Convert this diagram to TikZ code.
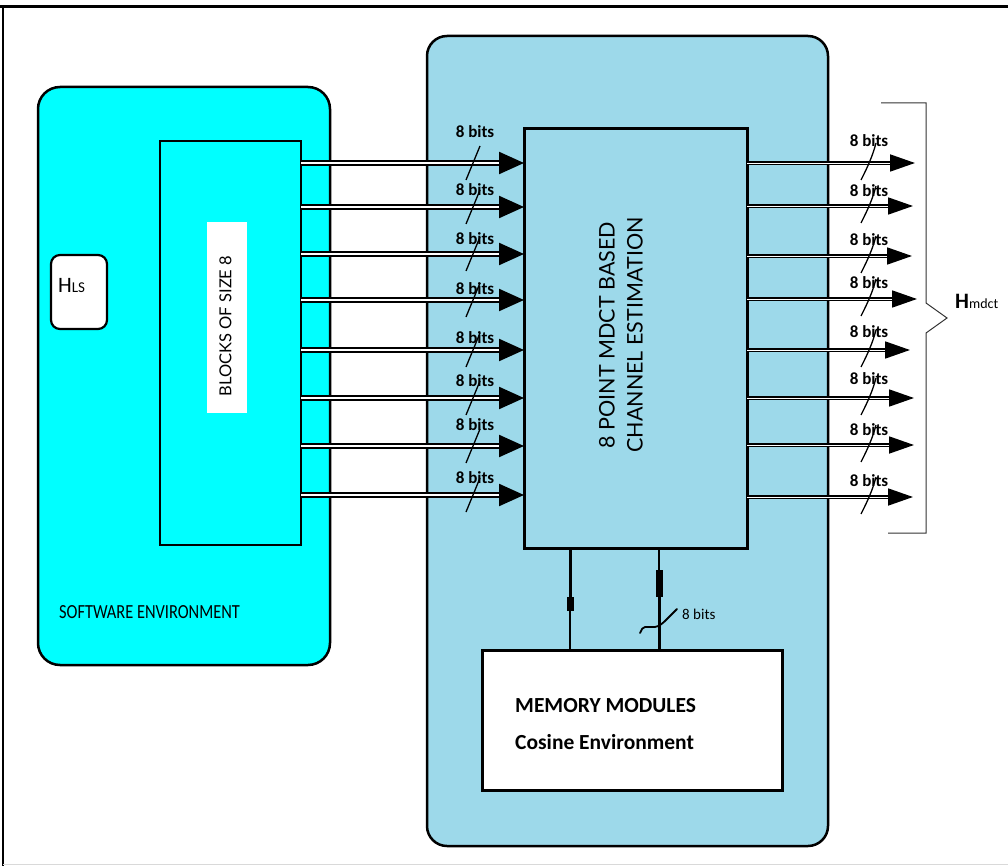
\documentclass[tikz,border=0pt]{standalone}
\usepackage{fontspec}
\setmainfont{Carlito}
\newfontfamily\rotfont{Lato}
\usetikzlibrary{arrows.meta}
\definecolor{hwblue}{RGB}{157,217,234}
\definecolor{swcyan}{RGB}{0,255,255}
\tikzset{
  box/.style={draw=black, line width=2.5pt, inner sep=0pt, outer sep=0pt, anchor=north west},
  inarrow/.style={line width=2.2pt, double=white, double distance=1.6pt, -{Triangle[length=25pt,width=22pt]}},
  outarrow/.style={line width=1.8pt, double=white, double distance=0.9pt, -{Triangle[length=25pt,width=17pt]}},
  slashline/.style={line width=1.3pt},
  bitlbl/.style={font=\fontsize{17}{18}\selectfont\bfseries, inner sep=0pt},
}
\begin{document}
\begin{tikzpicture}[x=1pt,y=-1pt]
\useasboundingbox (0,0) rectangle (1008,866);
% outer frame
\draw[line width=3pt] (0,6.5) -- (1008,6.5);
\draw[line width=1.5pt] (3,6.5) -- (3,866);
\draw[black!15, line width=1pt] (3,864.5) -- (1008,864.5);

% software environment
\node[box, fill=swcyan, rounded corners=22pt, minimum width=292pt, minimum height=578pt] (sw) at (38,87) {};
\node[anchor=west, inner sep=0pt, xscale=0.82, font=\fontsize{20}{22}\selectfont] (swlbl) at (59,612) {SOFTWARE ENVIRONMENT};
\node[box, fill=white, line width=2.2pt, rounded corners=9pt, minimum width=56pt, minimum height=74pt] (hls) at (51,255) {};
\node[anchor=west, inner sep=0pt] (hlslbl) at (58,285) {\fontsize{22}{24}\selectfont H\fontsize{15}{16}\selectfont LS};
\node[box, fill=swcyan, minimum width=141pt, minimum height=404pt] (blocks) at (160,141) {};
\node[anchor=north west, fill=white, inner sep=0pt, minimum width=40pt, minimum height=191pt] (blkbg) at (207,222) {};
\node[rotate=90, inner sep=0pt, font=\rotfont\fontsize{16.5}{18}\selectfont] (blklbl) at (225.5,326) {BLOCKS OF SIZE 8};

% hardware environment
\node[box, fill=hwblue, rounded corners=20pt, minimum width=401pt, minimum height=810pt] (hw) at (427,36) {};
\node[box, fill=hwblue, line width=3pt, minimum width=223pt, minimum height=419pt] (mdct) at (524,129) {};
\node[rotate=90, inner sep=0pt, align=center, font=\rotfont\fontsize{21.5}{28}\selectfont] (mdctlbl) at (621,335) {8 POINT MDCT BASED\\CHANNEL ESTIMATION};
\node[box, fill=white, line width=3pt, minimum width=300pt, minimum height=140pt] (mem) at (482,650) {};
\node[anchor=west, inner sep=0pt, align=left, font=\fontsize{21.5}{37}\selectfont\bfseries] (memlbl) at (515,724.5) {MEMORY MODULES\\Cosine Environment};

% input arrows
\foreach \y/\ly in {163/132, 207/190, 254/239, 300/289, 350/338, 398/381, 446/425, 495/478} {
  \draw[inarrow] (blocks.east |- 0,\y) -- (mdct.west |- 0,\y);
  \draw[slashline] (480,\y-17) -- (466,\y+17);
  \node[bitlbl] at (475,\ly) {8 bits};
}
% output arrows
\foreach \i/\y/\ly/\ex in {1/163/141/915, 2/206/191/913, 3/256/240/912, 4/299/283/917, 5/350/332/910, 6/398/379/914, 7/445/430/914, 8/497/481/913} {
  \coordinate (o\i) at (\ex,\y);
  \draw[outarrow] (mdct.east |- 0,\y) -- (o\i);
  \draw[slashline] (876,\y-20) .. controls (872,\y-5) and (867,\y+5) .. (861,\y+17);
  \node[bitlbl] at (869,\ly) {8 bits};
}
% bracket
\draw[line width=1pt, black!80] (881,103) -- (926,103) -- (926,303) -- (947,318) -- (926,333) -- (926,533) -- (888,533);
\node[anchor=west, inner sep=0pt] (hm) at (955,301) {\fontsize{22}{24}\selectfont\bfseries H\fontsize{14}{16}\selectfont\mdseries mdct};

% links to memory
\draw[line width=3pt] (mdct.south -| 570,0) -- (570,610);
\draw[line width=2pt] (570,610) -- (mem.north -| 570,0);
\fill (566.5,597) rectangle (573.5,611);
\draw[line width=1.2pt] (mdct.south -| 659,0) -- (659,570);
\draw[line width=3pt] (659,570) -- (mem.north -| 659,0);
\fill (655.5,570) rectangle (662.5,597);
\draw[line width=1.8pt, line cap=round, rounded corners=2pt] (640,633) -- (643,627) -- (657,627) -- (663,623) -- (677,609);
\node[anchor=west, inner sep=0pt, font=\fontsize{15}{16}\selectfont] (bits9) at (682,614) {8 bits};
\end{tikzpicture}
\end{document}
